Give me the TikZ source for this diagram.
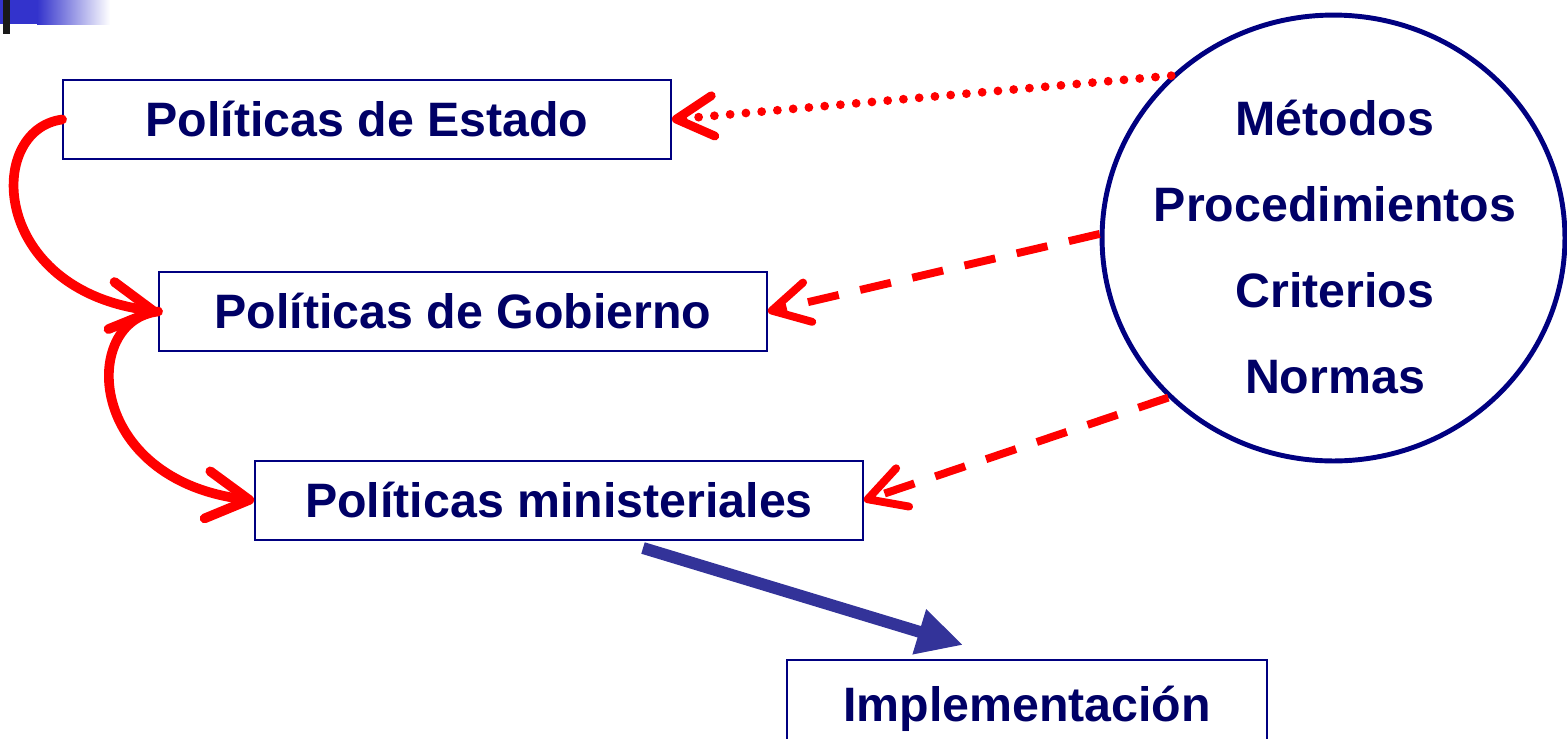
\documentclass[tikz,border=0pt]{standalone}
\usepackage{fontspec}
\setmainfont{Liberation Sans}
\usepackage{tikz}
\usetikzlibrary{arrows.meta}
\usetikzlibrary{shapes.geometric}
\usetikzlibrary{calc,positioning}

\definecolor{navytxt}{RGB}{0,0,102}
\definecolor{navyline}{RGB}{0,0,128}
\definecolor{arrowblue}{RGB}{51,51,153}
\definecolor{topblue}{RGB}{51,51,204}

\begin{document}
\begin{tikzpicture}[x=0.02cm, y=-0.02cm, >=Stealth,
    polbox/.style={draw=navyline, line width=1.1pt, minimum width=12.16cm,
      minimum height=1.58cm, inner sep=0pt, text=navytxt,
      font=\fontsize{27.5}{33}\selectfont\bfseries},
    redcurve/.style={draw=red, line width=5.5pt, line cap=round,
      -{Straight Barb[length=24pt,width=27pt,round]}},
    reddots/.style={draw=red, line width=5pt, line cap=round,
      dash pattern=on 0pt off 9pt,
      -{Straight Barb[length=21pt,width=23pt,round]}},
    reddash/.style={draw=red, line width=4.5pt,
      dash pattern=on 18pt off 12.5pt,
      -{Straight Barb[length=21pt,width=23pt,round]}}]

    \useasboundingbox (0,0) rectangle (1567,738);

    % corner mark
    \fill[topblue] (0,0) rectangle (37,24);
    \shade[left color=topblue, right color=white] (37,0) rectangle (110,24);
    \fill[black!90] (3,0) rectangle (10,34);

    \node[polbox] (est) at (367,119.5) {Políticas de Estado};
    \node[polbox] (gob) at (463,311.5) {Políticas de Gobierno};
    \node[polbox] (min) at (559,500.5) {Políticas ministeriales};
    \node[polbox, minimum width=9.6cm, minimum height=1.94cm] (impl) at (1027,708.5) {Implementación};

    \node[ellipse, draw=navyline, line width=2.8pt, minimum width=9.26cm,
      minimum height=8.92cm, inner sep=0pt] (circ) at (1333.5,238) {};
    \node[text=navytxt, align=center,
      font=\fontsize{27.5}{48.8}\selectfont\bfseries] (meth) at (1335,247)
      {Métodos\\Procedimientos\\Criterios\\Normas};

    \draw[redcurve] (est.west) .. controls (-15,130) and (-10,290) .. (gob.west);
    \draw[redcurve] (gob.west) .. controls (80,320) and (85,480) .. (min.west);

    \draw[reddots] (circ.135) -- (est.east);
    \draw[reddash] (circ.179) -- (gob.east);
    \draw[reddash] (circ.224.6) -- (min.east);

    \coordinate (bstart) at (643,548);
    \coordinate (bend) at (963,645);
    \draw[arrowblue, line width=6.8pt,
      -{Triangle[length=26pt,width=25pt]}] (bstart) -- (bend);

\end{tikzpicture}
\end{document}
